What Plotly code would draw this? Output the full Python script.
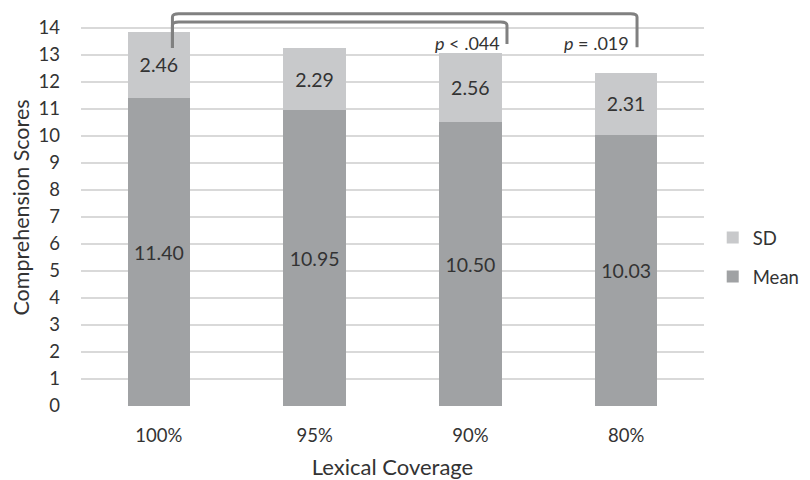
import plotly.graph_objects as go

categories = ["100%", "95%", "90%", "80%"]
mean_vals = [11.40, 10.95, 10.50, 10.03]
sd_vals = [2.46, 2.29, 2.56, 2.31]
y_ticks = list(range(0, 15))
p_labels = ["<i>p</i> < .044", "<i>p</i> = .019"]

x_idx = list(range(len(categories)))
FONT = "Lato"
TXT = "#333333"

fig = go.Figure()
fig.add_trace(go.Bar(
    x=x_idx, y=mean_vals, name="Mean", marker_color="#a0a2a4", legendgroup="m",
    legendrank=2,
    text=[f"{v:.2f}" for v in mean_vals], textposition="inside",
    insidetextanchor="middle", textfont=dict(size=19.5, color=TXT, family=FONT),
    width=0.4, marker_line_width=0,
))
fig.add_trace(go.Bar(
    x=x_idx, y=sd_vals, name="SD", marker_color="#c8c9cb", legendgroup="s",
    legendrank=1,
    text=[f"{v:.2f}" for v in sd_vals], textposition="inside",
    insidetextanchor="middle", textfont=dict(size=19.5, color=TXT, family=FONT),
    width=0.4, marker_line_width=0,
))

# significance brackets
def bracket(x0, x1, ytop, y0end, y1end, r=0.04, ry=0.12):
    return (f"M {x0} {y0end} L {x0} {ytop - ry} Q {x0} {ytop} {x0 + r} {ytop} "
            f"L {x1 - r} {ytop} Q {x1} {ytop} {x1} {ytop - ry} L {x1} {y1end}")

left = x_idx[0] + 0.087
fig.add_shape(type="path", path=bracket(left, x_idx[3] + 0.07, 14.52, 13.26, 13.28),
              line=dict(color="#808080", width=3), xref="x", yref="y")
fig.add_shape(type="path", path=bracket(left, x_idx[2] + 0.235, 14.22, 13.26, 13.4),
              line=dict(color="#808080", width=3), xref="x", yref="y")

fig.add_annotation(x=x_idx[2] + 0.2, y=13.44, text=p_labels[0], showarrow=False,
                   xanchor="right", font=dict(size=18, color=TXT, family=FONT))
fig.add_annotation(x=x_idx[3] + 0.03, y=13.44, text=p_labels[1], showarrow=False,
                   xanchor="right", font=dict(size=18, color=TXT, family=FONT))

fig.update_layout(
    width=802, height=472,
    barmode="stack",
    plot_bgcolor="white", paper_bgcolor="white",
    margin=dict(l=73, r=106, t=1, b=74, autoexpand=False),
    font=dict(family=FONT, size=18.5, color=TXT),
    showlegend=True,
    legend=dict(traceorder="grouped", x=1.014, y=0.374, yanchor="middle",
                xanchor="left", font=dict(size=18.5, color=TXT, family=FONT), itemwidth=30,
                tracegroupgap=12),
    xaxis=dict(tickvals=x_idx, ticktext=categories, range=[-0.5, 3.5],
               showgrid=False, zeroline=False, showline=False, ticks="",
               ticklabelstandoff=16, automargin=False,
               title=dict(text="Lexical Coverage", standoff=19, font=dict(size=22))),
    yaxis=dict(range=[0, 14.7], tickvals=y_ticks, showgrid=True, gridcolor="#d9d9d9",
               gridwidth=1.5, zeroline=False, showline=False, ticks="",
               ticklabelstandoff=20, automargin=False,
               title=dict(text="Comprehension Scores", standoff=6, font=dict(size=21.5))),
)

fig.write_html("out.html")
